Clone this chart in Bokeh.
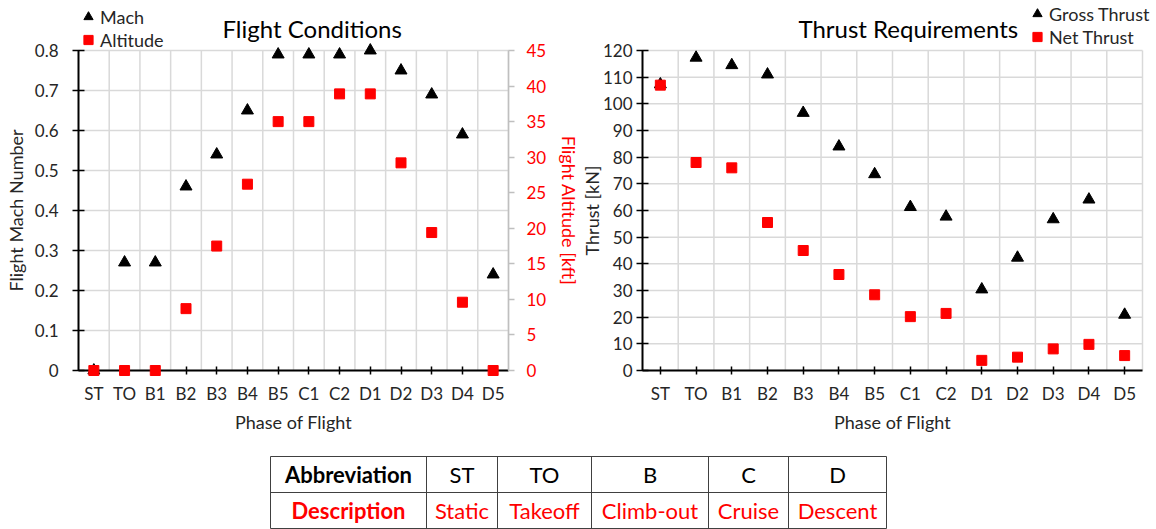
from bokeh.plotting import figure
from bokeh.models import (Range1d, LinearAxis, FixedTicker, Legend, LegendItem,
                          ColumnDataSource, Label)
from bokeh.layouts import column, row
from bokeh.embed import file_html
from bokeh.resources import INLINE
from bokeh.core.properties import value

# ---------------- data ----------------
phases = ["ST", "TO", "B1", "B2", "B3", "B4", "B5", "C1", "C2", "D1", "D2", "D3", "D4", "D5"]
mach = [0.0, 0.27, 0.27, 0.46, 0.54, 0.65, 0.79, 0.79, 0.79, 0.80, 0.75, 0.69, 0.59, 0.24]
altitude_kft = [0.0, 0.0, 0.0, 8.7, 17.5, 26.2, 35.0, 35.0, 38.9, 38.9, 29.2, 19.4, 9.6, 0.0]
gross_thrust_kN = [107.3, 117.3, 114.5, 111.0, 96.6, 84.0, 73.6, 61.3, 57.7, 30.4, 42.3, 56.7, 64.1, 20.9]
net_thrust_kN = [107.0, 78.0, 76.0, 55.5, 45.0, 36.0, 28.4, 20.2, 21.4, 3.8, 5.0, 8.1, 9.8, 5.6]
mach_ticks = [0, 0.1, 0.2, 0.3, 0.4, 0.5, 0.6, 0.7, 0.8]
alt_ticks = [0, 5, 10, 15, 20, 25, 30, 35, 40, 45]
thrust_ticks = [0, 10, 20, 30, 40, 50, 60, 70, 80, 90, 100, 110, 120]
table_abbrev = ["Abbreviation", "ST", "TO", "B", "C", "D"]
table_desc = ["Description", "Static", "Takeoff", "Climb-out", "Cruise", "Descent"]

# ---------------- style ----------------
FONT = "Lato"
TXT = "#262626"
GRID = "#d9d9d9"
RED = "#ff0000"
TICK_FS = "17px"
LABEL_FS = "18px"

xpos = list(range(1, len(phases) + 1))
X0, X1 = 0.5, len(phases) + 0.5
src = ColumnDataSource(dict(x=xpos, mach=mach, alt=altitude_kft,
                            gross=gross_thrust_kN, net=net_thrust_kN))


class Frame:
    """Maps a pixel box inside a figure onto data ranges; the frame covers the whole figure."""
    def __init__(self, width, height, left, right, top, bottom, y0, y1):
        self.w, self.h = width, height
        self.top, self.bottom = top, bottom
        self.sx = (width - left - right) / (X1 - X0)
        self.sy = (height - top - bottom) / (y1 - y0)
        self.xr = Range1d(X0 - left / self.sx, X1 + right / self.sx)
        self.yr = Range1d(y0 - bottom / self.sy, y1 + top / self.sy)

    def extra(self, a0, a1):
        sa = (self.h - self.top - self.bottom) / (a1 - a0)
        return Range1d(a0 - self.bottom / sa, a1 + self.top / sa)

    def px_x(self, px):
        return self.xr.start + px / self.sx

    def px_y(self, py):
        return self.yr.end - py / self.sy


def style_axis(ax, color="black", text_color=TXT):
    ax.axis_line_color = color
    ax.axis_line_width = 2
    ax.major_tick_line_color = color
    ax.major_tick_line_width = 1.5
    ax.minor_tick_line_color = None
    ax.major_label_text_font = FONT
    ax.major_label_text_font_size = TICK_FS
    ax.major_label_text_color = text_color
    ax.axis_label_text_font = FONT
    ax.axis_label_text_font_size = LABEL_FS
    ax.axis_label_text_font_style = "normal"
    ax.axis_label_text_color = text_color


def base_fig(fr, y_ticks, title, title_px):
    p = figure(width=fr.w, height=fr.h, x_range=fr.xr, y_range=fr.yr,
               output_backend="svg", toolbar_location=None, min_border=0,
               x_axis_location=None, y_axis_location=None)
    p.outline_line_color = None
    p.background_fill_color = "white"
    p.border_fill_color = "white"
    p.grid.visible = False
    # grid lines limited to the data box
    bounds = [i + 0.5 for i in xpos]
    p.segment(x0=bounds, x1=bounds, y0=[y_ticks[0]] * len(bounds),
              y1=[y_ticks[-1]] * len(bounds), line_color=GRID, line_width=1.5,
              level="underlay")
    p.segment(x0=[X0] * len(y_ticks), x1=[X1] * len(y_ticks), y0=y_ticks, y1=y_ticks,
              line_color=GRID, line_width=1.5, level="underlay")
    # x axis
    xa = LinearAxis(fixed_location=y_ticks[0], bounds=(X0, X1),
                    ticker=FixedTicker(ticks=xpos),
                    major_label_overrides={i: s for i, s in zip(xpos, phases)},
                    axis_label="Phase of Flight")
    style_axis(xa)
    xa.major_tick_in = 4
    xa.major_tick_out = 4
    xa.major_label_standoff = 8
    xa.axis_label_standoff = 4
    p.add_layout(xa, "below")
    # title
    p.add_layout(Label(x=fr.px_x(title_px), y=fr.px_y(28), text=title,
                       text_font=FONT, text_font_size="24px", text_color="black",
                       text_baseline="middle", text_align="left"))
    return p


def make_legend(p, items, loc):
    lg = Legend(items=items, location=loc, orientation="vertical")
    lg.padding = 0
    lg.margin = 0
    lg.spacing = 0
    lg.glyph_width = 24
    lg.glyph_height = 23
    lg.label_height = 23
    lg.label_standoff = 0
    lg.border_line_alpha = 0
    lg.background_fill_alpha = 0
    lg.label_text_font = FONT
    lg.label_text_font_size = LABEL_FS
    lg.label_text_color = TXT
    lg.label_text_baseline = "middle"
    p.add_layout(lg)


# ---------------- left chart ----------------
f1 = Frame(580, 445, 78, 72, 50, 75, mach_ticks[0], mach_ticks[-1])
p1 = base_fig(f1, mach_ticks, "Flight Conditions", 222)
p1.extra_y_ranges = {"alt": f1.extra(alt_ticks[0], alt_ticks[-1])}

ya = LinearAxis(fixed_location=X0, bounds=(mach_ticks[0], mach_ticks[-1]),
                ticker=FixedTicker(ticks=mach_ticks), axis_label="Flight Mach Number")
style_axis(ya)
ya.major_tick_in = 6
ya.major_tick_out = 6
ya.major_label_standoff = 14
ya.axis_label_standoff = 5
p1.add_layout(ya, "left")

ra = LinearAxis(y_range_name="alt", fixed_location=X1,
                bounds=(alt_ticks[0], alt_ticks[-1]),
                ticker=FixedTicker(ticks=alt_ticks), axis_label="Flight Altitude [kft]")
style_axis(ra, color="#bfbfbf", text_color=RED)
ra.axis_line_width = 1.5
ra.major_tick_in = 0
ra.major_tick_out = 6
ra.major_label_standoff = 12
ra.axis_label_standoff = 9
p1.add_layout(ra, "right")

m1 = p1.scatter("x", "mach", source=src, marker="triangle", size=12, color="black",
                level="overlay")
a1 = p1.scatter("x", "alt", source=src, marker="square", size=10, color=RED,
                y_range_name="alt", level="overlay")
make_legend(p1, [LegendItem(label="Mach", renderers=[m1]),
                 LegendItem(label="Altitude", renderers=[a1])], (76, 394))

# ---------------- right chart ----------------
f2 = Frame(576, 445, 62, 14, 50, 75, thrust_ticks[0], thrust_ticks[-1])
p2 = base_fig(f2, thrust_ticks, "Thrust Requirements", 218)
yb = LinearAxis(fixed_location=X0, bounds=(thrust_ticks[0], thrust_ticks[-1]),
                ticker=FixedTicker(ticks=thrust_ticks), axis_label="Thrust [kN]")
style_axis(yb)
yb.major_tick_in = 6
yb.major_tick_out = 6
yb.major_label_standoff = 4
yb.axis_label_standoff = -3
p2.add_layout(yb, "left")

g2 = p2.scatter("x", "gross", source=src, marker="triangle", size=12, color="black",
                level="overlay")
n2 = p2.scatter("x", "net", source=src, marker="square", size=10, color=RED,
                level="overlay")
make_legend(p2, [LegendItem(label="Gross Thrust", renderers=[g2]),
                 LegendItem(label="Net Thrust", renderers=[n2])], (445, 397))

# ---------------- table ----------------
col_widths = [156, 71, 94, 117, 80, 98]
table_left = 270
row_edges = [11, 47, 83]

t = figure(width=1156, height=84, x_range=Range1d(0, 1156), y_range=Range1d(84, 0),
           output_backend="svg", toolbar_location=None, min_border=0)
t.axis.visible = False
t.grid.visible = False
t.outline_line_color = None
t.background_fill_color = "white"
t.border_fill_color = "white"

edges = [table_left]
for w in col_widths:
    edges.append(edges[-1] + w)
centers = [(edges[i] + edges[i + 1]) / 2 for i in range(len(col_widths))]

t.segment(x0=[edges[0]] * 3, x1=[edges[-1]] * 3, y0=row_edges, y1=row_edges,
          line_color="#404040", line_width=1)
t.segment(x0=edges, x1=edges, y0=[row_edges[0]] * len(edges),
          y1=[row_edges[-1]] * len(edges), line_color="#404040", line_width=1)

ymid1 = (row_edges[0] + row_edges[1]) / 2
ymid2 = (row_edges[1] + row_edges[2]) / 2
n = len(col_widths) - 1
common = dict(text_font=value(FONT), text_font_size="22px",
              text_align="center", text_baseline="middle")
t.text(x=centers[:1], y=[ymid1], text=table_abbrev[:1], text_font_style="bold",
       text_color="black", **common)
t.text(x=centers[1:], y=[ymid1] * n, text=table_abbrev[1:], text_color="black", **common)
t.text(x=centers[:1], y=[ymid2], text=table_desc[:1], text_font_style="bold",
       text_color=RED, **common)
t.text(x=centers[1:], y=[ymid2] * n, text=table_desc[1:], text_color=RED, **common)

layout = column(row(p1, p2, spacing=0), t, spacing=0)
open("out.html", "w").write(file_html(layout, INLINE))
